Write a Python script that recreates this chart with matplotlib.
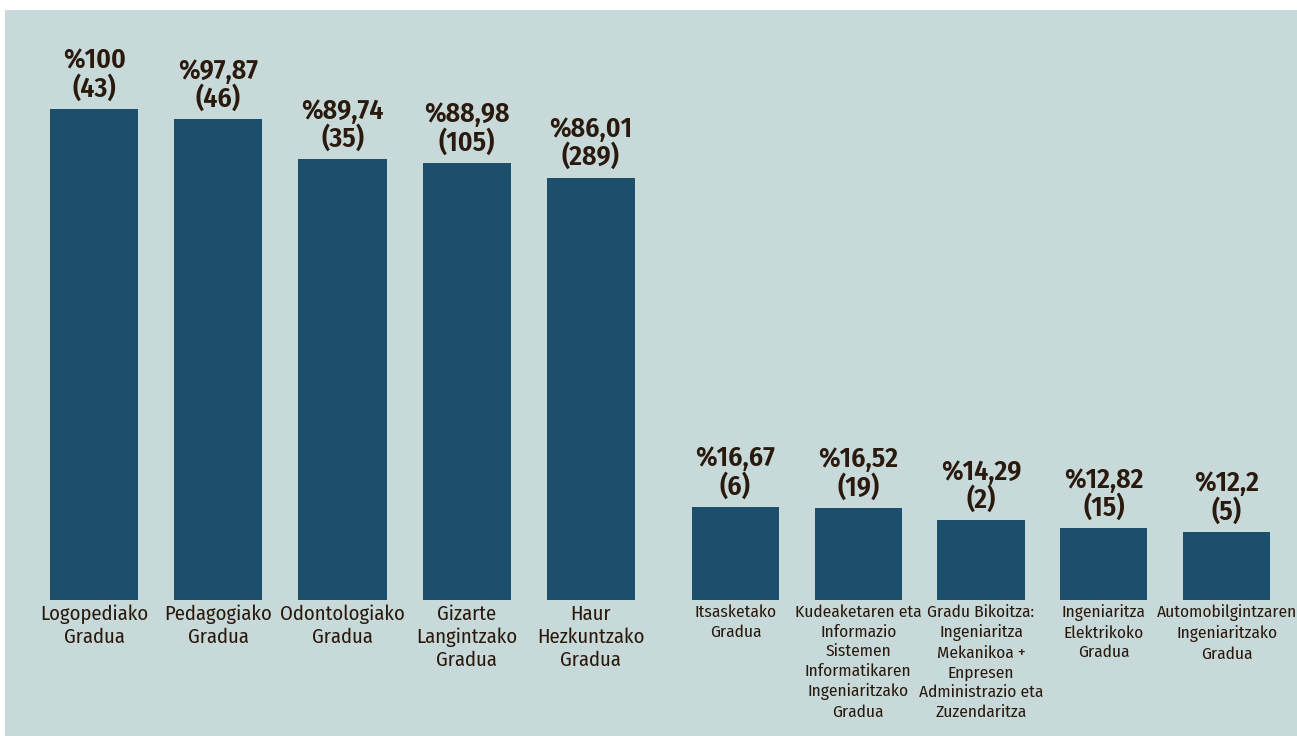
import matplotlib
matplotlib.use("Agg")
import matplotlib.pyplot as plt
from matplotlib import font_manager
from matplotlib.patches import Rectangle

# ---- data ----
cats1 = ["Logopediako\nGradua", "Pedagogiako\nGradua", "Odontologiako\nGradua",
         "Gizarte\nLangintzako\nGradua", "Haur\nHezkuntzako\nGradua"]
pct1 = [100, 97.87, 89.74, 88.98, 86.01]
n1 = [43, 46, 35, 105, 289]
lab1 = ["%100", "%97,87", "%89,74", "%88,98", "%86,01"]

cats2 = ["Itsasketako\nGradua",
         "Kudeaketaren eta\nInformazio\nSistemen\nInformatikaren\nIngeniaritzako\nGradua",
         "Gradu Bikoitza:\nIngeniaritza\nMekanikoa +\nEnpresen\nAdministrazio eta\nZuzendaritza",
         "Ingeniaritza\nElektrikoko\nGradua",
         "Automobilgintzaren\nIngeniaritzako\nGradua"]
pct2 = [16.67, 16.52, 14.29, 12.82, 12.2]
n2 = [6, 19, 2, 15, 5]
lab2 = ["%16,67", "%16,52", "%14,29", "%12,82", "%12,2"]

# ---- style ----
names = {f.name for f in font_manager.fontManager.ttflist}
fam = "Fira Sans Condensed" if "Fira Sans Condensed" in names else "DejaVu Sans"
plt.rcParams["font.family"] = [fam, "DejaVu Sans"]

BG = "#C8D9DA"
BAR = "#1C4F6B"
TXT = "#2A1A0E"

W, H = 1297, 736
fig = plt.figure(figsize=(W / 100, H / 100), dpi=100)
fig.patches.append(Rectangle((5 / W, 0), 1 - 5 / W, 1 - 10 / H,
                             transform=fig.transFigure, facecolor=BG,
                             edgecolor="none", zorder=-10))

bottom = 1 - 600 / H
height = 590 / H
ax1 = fig.add_axes([32 / W, bottom, 621 / W, height])
ax2 = fig.add_axes([674 / W, bottom, 614 / W, height])


def draw(ax, cats, pct, n, labs, ymax, catsize, ls):
    x = list(range(len(cats)))
    ax.bar(x, pct, width=0.71, color=BAR, zorder=2)
    ax.set_xlim(-0.5, len(cats) - 0.5)
    ax.set_ylim(0, ymax)
    ax.set_facecolor("none")
    for s in ax.spines.values():
        s.set_visible(False)
    ax.set_yticks([])
    ax.set_xticks(x)
    ax.set_xticklabels(cats, fontsize=catsize, color=TXT, linespacing=ls)
    ax.tick_params(axis="x", length=0, pad=3)
    for xi, p, ni, lb in zip(x, pct, n, labs):
        ax.annotate(f"{lb}\n({ni})", (xi, p), xytext=(0, 5),
                    textcoords="offset points", ha="center", va="bottom",
                    fontsize=20, fontweight=600, color=TXT,
                    linespacing=1.02)


draw(ax1, cats1, pct1, n1, lab1, 590 / 4.91, 14.8, 1.24)
draw(ax2, cats2, pct2, n2, lab2, 590 / 5.58, 12.5, 1.3)

fig.savefig("out.png", dpi=100)
